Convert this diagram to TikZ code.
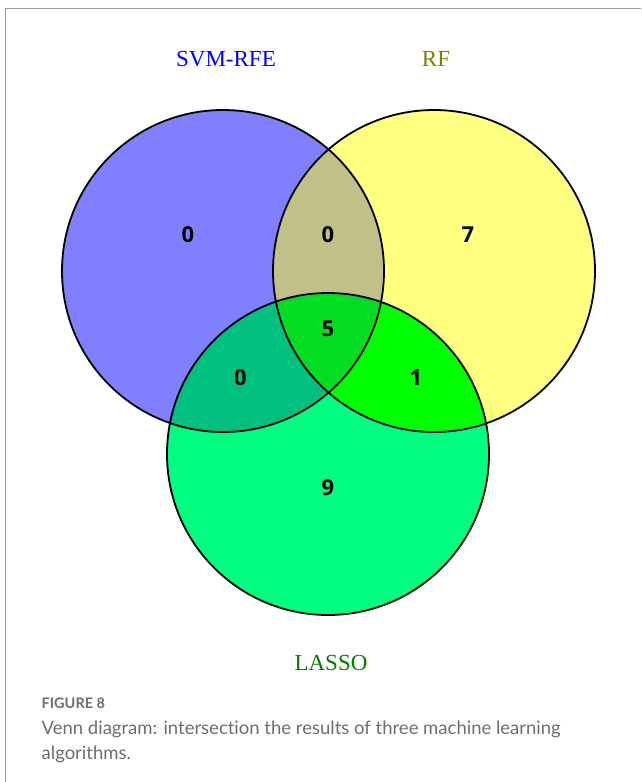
\documentclass[tikz,border=0pt]{standalone}
\usepackage{fontspec}
\setmainfont{Liberation Serif}
\newfontfamily\numfont{Open Sans}
\newfontfamily\capfont[Ligatures=NoCommon]{Lato}
\definecolor{svmfill}{HTML}{8080FF}
\definecolor{rffill}{HTML}{FFFF80}
\definecolor{lassofill}{HTML}{00FF80}
\definecolor{svmrf}{HTML}{C0C088}
\definecolor{svmlasso}{HTML}{00C080}
\definecolor{rflasso}{HTML}{00FF00}
\definecolor{allthree}{HTML}{00DD22}
\definecolor{svmtext}{HTML}{0000FF}
\definecolor{rftext}{HTML}{808000}
\definecolor{lassotext}{HTML}{008000}
\definecolor{framegray}{HTML}{9A9A9A}
\definecolor{captiongray}{HTML}{6E6E6E}
\begin{document}
\begin{tikzpicture}[x=1pt,y=-1pt,
  setlabel/.style={anchor=base,inner sep=0pt,font=\fontsize{23}{27}\selectfont},
  count/.style={inner sep=0pt,font=\numfont\bfseries\fontsize{22}{26}\selectfont},
  rim/.style={draw=black,line width=1.8pt},
  captext/.style={anchor=base west,inner sep=0pt,text=captiongray}]
\useasboundingbox (0,0) rectangle (641,782);
\fill[white] (0,0) rectangle (641,782);
% outer frame (top and left rules)
\draw[framegray,line width=1pt] (5,782) -- (5,8.5) -- (641,8.5);

% set centres
\coordinate (S) at (223,271);
\coordinate (R) at (434,271);
\coordinate (L) at (328,454);
\def\rad{161pt}

% single sets
\fill[svmfill] (S) circle[radius=\rad];
\fill[rffill] (R) circle[radius=\rad];
\fill[lassofill] (L) circle[radius=\rad];
% pairwise overlaps
\begin{scope}
  \clip (S) circle[radius=\rad];
  \fill[svmrf] (R) circle[radius=\rad];
  \fill[svmlasso] (L) circle[radius=\rad];
\end{scope}
\begin{scope}
  \clip (R) circle[radius=\rad];
  \fill[rflasso] (L) circle[radius=\rad];
\end{scope}
% triple overlap
\begin{scope}
  \clip (S) circle[radius=\rad];
  \clip (R) circle[radius=\rad];
  \fill[allthree] (L) circle[radius=\rad];
\end{scope}
% outlines
\draw[rim] (S) circle[radius=\rad];
\draw[rim] (R) circle[radius=\rad];
\draw[rim] (L) circle[radius=\rad];

% set names
\node[setlabel,text=svmtext] (tsvm) at (226,66.5) {SVM-RFE};
\node[setlabel,text=rftext] (trf) at (436,66.5) {RF};
\node[setlabel,text=lassotext] (tlasso) at (331,670.5) {LASSO};

% region counts
\node[count] (nS) at (188,234.5) {0};
\node[count] (nSR) at (328,234.5) {0};
\node[count] (nR) at (468,234.5) {7};
\node[count] (nSRL) at (328,328.5) {5};
\node[count] (nSL) at (240.5,377.5) {0};
\node[count] (nRL) at (416,377.5) {1};
\node[count] (nL) at (328,487.5) {9};

% caption
\node[captext,font=\capfont\bfseries\fontsize{14.5}{17}\selectfont] (fig) at (41.5,708) {FIGURE 8};
\node[captext,font=\capfont\fontsize{18.5}{22}\selectfont] (cap1) at (41.5,734.5) {Venn diagram: intersection the results of three machine learning};
\node[captext,font=\capfont\fontsize{18.5}{22}\selectfont] (cap2) at (41.5,759) {algorithms.};
\end{tikzpicture}
\end{document}
